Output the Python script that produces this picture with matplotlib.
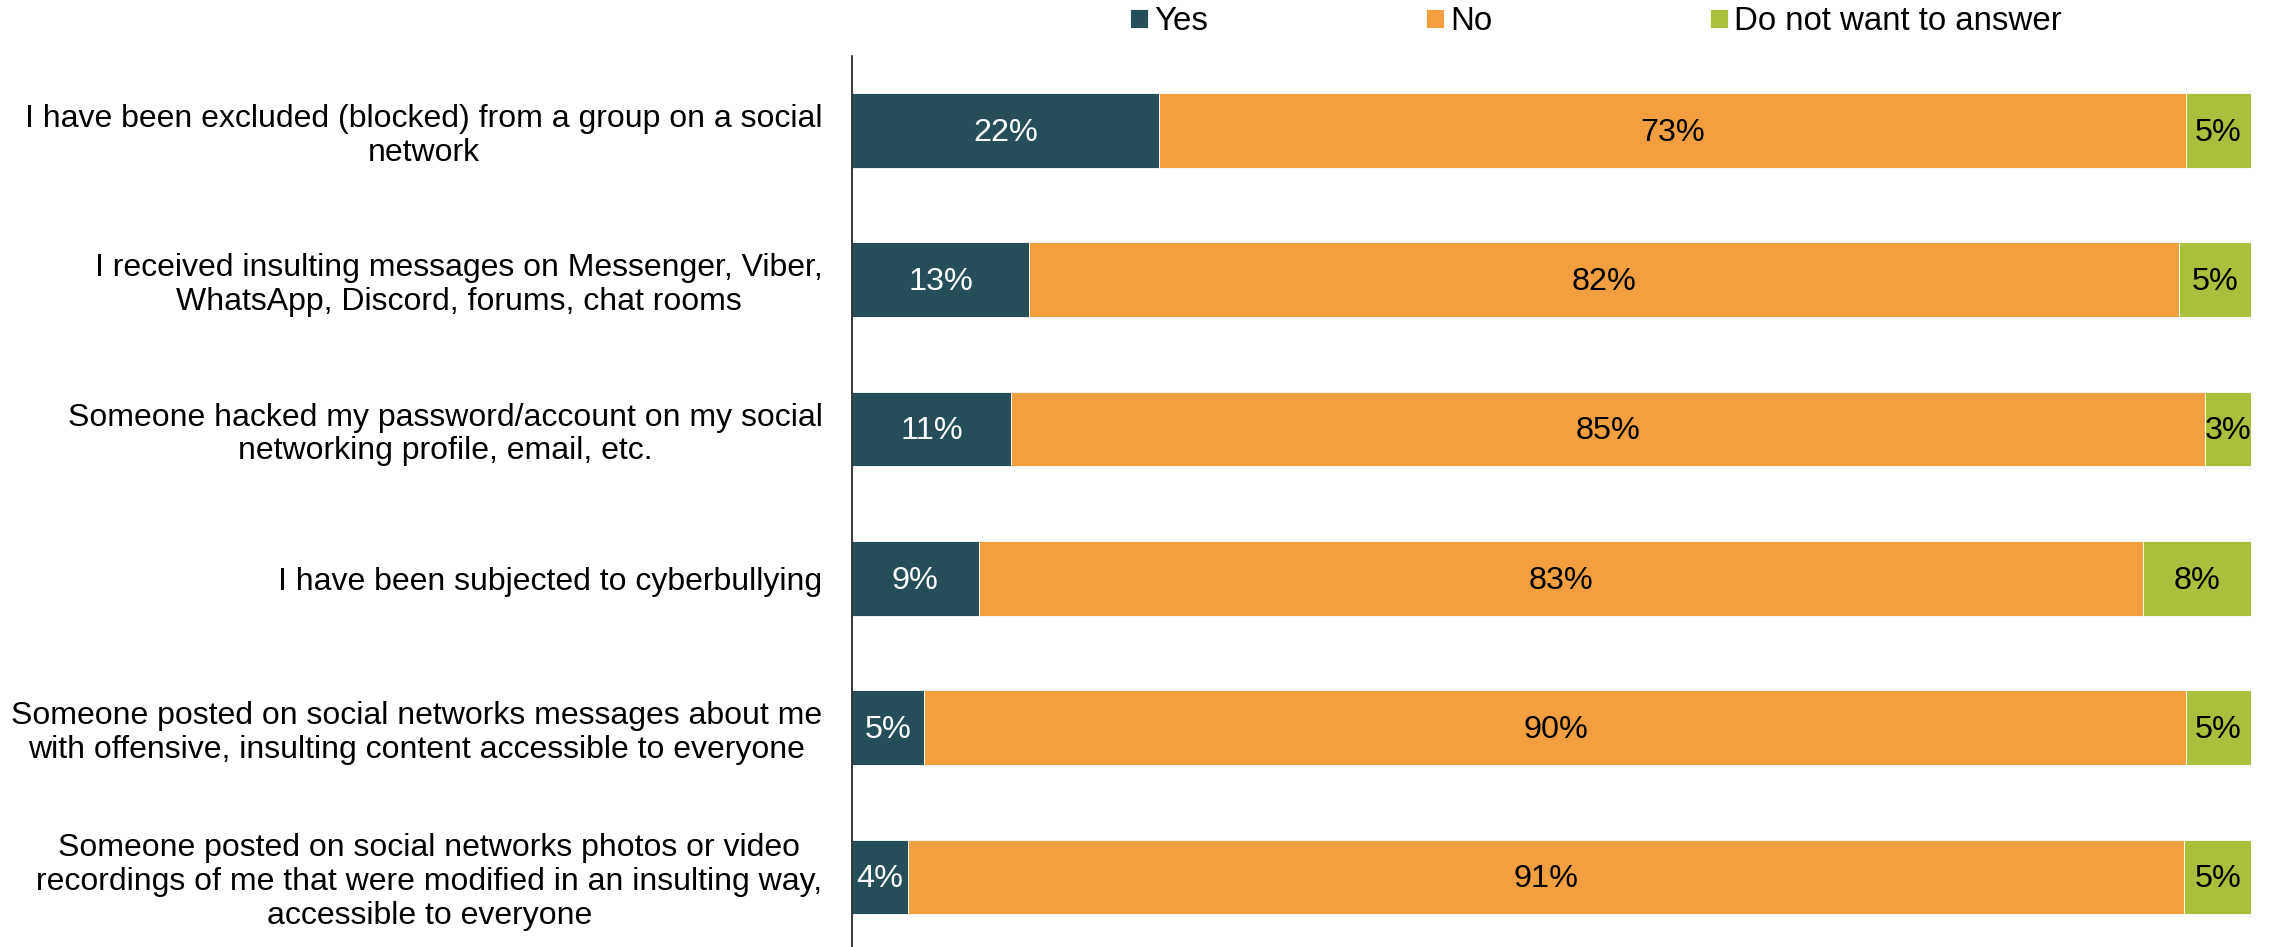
import matplotlib.pyplot as plt
import numpy as np

plt.rcParams['font.family'] = ['Liberation Sans', 'DejaVu Sans']

# 数据（从图中读取的百分比）
categories = [
    'I have been excluded (blocked) from a group on a social\nnetwork',
    'I received insulting messages on Messenger, Viber,\nWhatsApp, Discord, forums, chat rooms',
    'Someone hacked my password/account on my social\nnetworking profile, email, etc.',
    'I have been subjected to cyberbullying',
    'Someone posted on social networks messages about me\nwith offensive, insulting content accessible to everyone',
    'Someone posted on social networks photos or video\nrecordings of me that were modified in an insulting way,\naccessible to everyone',
]
yes = [22.0, 12.7, 11.4, 9.1, 5.2, 4.0]
no = [73.4, 82.2, 85.3, 83.2, 90.2, 91.2]
dna = [4.6, 5.1, 3.3, 7.7, 4.6, 4.9]

series_names = ['Yes', 'No', 'Do not want to answer']
colors = ['#264E59', '#F2A03F', '#A8C03B']
label_colors = ['white', 'black', 'black']

fig = plt.figure(figsize=(22.77, 9.47), dpi=100)
ax = fig.add_axes([0.374, 0.0, 0.6145, 0.941])

y = np.arange(len(categories))
left = np.zeros(len(categories))
for name, vals, c, lc in zip(series_names, [yes, no, dna], colors, label_colors):
    vals = np.array(vals)
    ax.barh(y, vals, left=left, height=0.5, color=c, edgecolor='white',
            linewidth=0.6, label=name)
    # 在每段中间添加数值标注
    for yi, l, v in zip(y, left, vals):
        ax.text(l + v / 2, yi + 0.015, f'{v:.0f}%', ha='center', va='center',
                fontsize=23.3, color=lc)
    left = left + vals

ax.set_xlim(0, 100)
ax.set_ylim(5.47, -0.5)
ax.set_yticks(y)
ax.set_yticklabels(categories, fontsize=23, linespacing=1.17)
for lab in ax.get_yticklabels():
    lab.set_multialignment('center')
ax.tick_params(axis='y', length=0, pad=21)
ax.set_xticks([])
for s in ['top', 'right', 'bottom']:
    ax.spines[s].set_visible(False)
ax.spines['left'].set_linewidth(1.1)
ax.spines['left'].set_color('black')

fig.legend(loc='center', bbox_to_anchor=(0.701, 0.977), ncol=3, frameon=False,
           fontsize=23.8, handlelength=0.52, handleheight=0.52,
           handletextpad=0.2, columnspacing=6.6, borderpad=0)

plt.savefig('out.png', dpi=100)
plt.close()
